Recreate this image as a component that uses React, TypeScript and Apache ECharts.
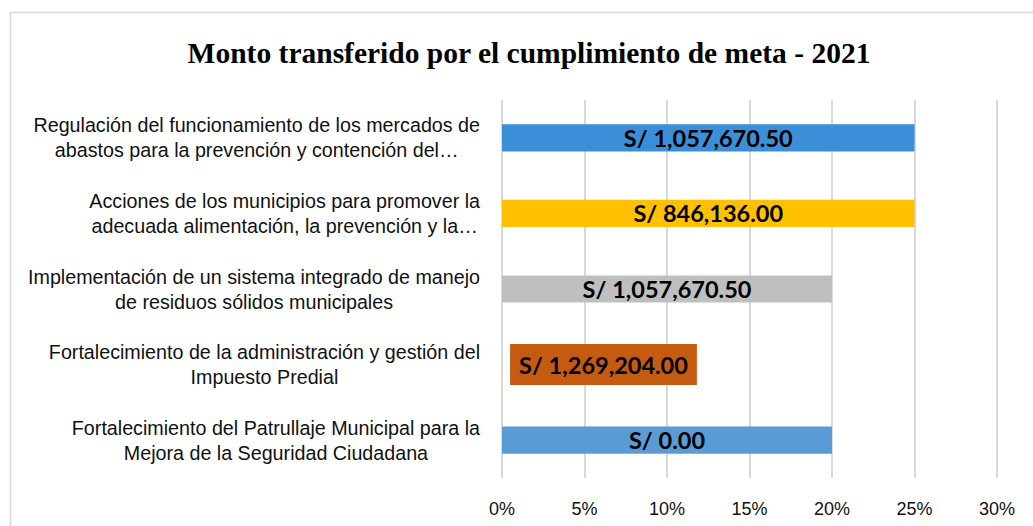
import React, { useEffect, useRef } from "react";
import * as echarts from "echarts";

const categories = [
  "Regulación del funcionamiento de los mercados de\nabastos para la prevención y contención del…",
  "Acciones de los municipios para promover la\nadecuada alimentación, la prevención y la…",
  "Implementación de un sistema integrado de manejo\nde residuos sólidos municipales",
  "Fortalecimiento de la administración y gestión del\nImpuesto Predial",
  "Fortalecimiento del Patrullaje Municipal para la\nMejora de la Seguridad Ciudadana",
];
const percentValues = [0.25, 0.25, 0.2, 0.123, 0.2];
const amountLabels = [
  "S/ 1,057,670.50",
  "S/ 846,136.00",
  "S/ 1,057,670.50",
  "S/ 1,269,204.00",
  "S/ 0.00",
];
const barColors = ["#3A8FD8", "#FFC000", "#BFBFBF", "#C55A11", "#5B9BD5"];
const hiddenBar = [false, false, false, true, false];
const tickValues = [0, 0.05, 0.1, 0.15, 0.2, 0.25, 0.3];

export default function App() {
  const ref = useRef<HTMLDivElement>(null);
  useEffect(() => {
    const chart = echarts.init(ref.current!, null, { renderer: "svg" });
    chart.setOption({
      animation: false,
      backgroundColor: "#ffffff",
      title: {
        text: "Monto transferido por el cumplimiento de meta - 2021",
        left: 524,
        top: 33,
        textAlign: "center",
        textStyle: {
          fontFamily: "Liberation Serif",
          fontWeight: "bold",
          fontSize: 29.5,
          color: "#000",
        },
      },
      graphic: [
        {
          type: "rect",
          shape: { x: 10.5, y: 12.5, width: 1100, height: 600 },
          style: { fill: "none", stroke: "#D9D9D9", lineWidth: 1.5 },
          silent: true,
        },
      ],
      grid: { left: 502, right: 36, top: 100, bottom: 48 },
      xAxis: {
        type: "value",
        min: tickValues[0],
        max: tickValues[tickValues.length - 1],
        interval: 0.05,
        axisLine: { show: false },
        axisTick: { show: false },
        splitLine: { lineStyle: { color: "#D9D9D9", width: 2 } },
        axisLabel: {
          formatter: (v: number) => Math.round(v * 100) + "%",
          fontFamily: "Liberation Sans",
          fontSize: 18,
          color: "#111",
          margin: 22,
        },
      },
      yAxis: {
        type: "category",
        data: categories,
        inverse: true,
        axisLine: { show: false },
        axisTick: { show: false },
        axisLabel: {
          align: "right",
          margin: 22,
          formatter: (v: string) =>
            v
              .split("\n")
              .map((line) => "{c|" + line + "}")
              .join("\n"),
          rich: {
            c: {
              align: "center",
              fontFamily: "Liberation Sans",
              fontSize: 19.7,
              lineHeight: 25,
              color: "#111",
            },
          },
        },
      },
      series: [
        {
          type: "bar",
          barWidth: "36%",
          data: percentValues.map((v, i) => ({
            value: v,
            itemStyle: { color: hiddenBar[i] ? "rgba(0,0,0,0)" : barColors[i] },
            label: hiddenBar[i]
              ? {
                  backgroundColor: barColors[i],
                  padding: [9, 9, 8, 9],
                }
              : {},
          })),
          label: {
            show: true,
            position: "inside",
            formatter: (p: any) => amountLabels[p.dataIndex],
            fontFamily: "Lato",
            fontWeight: "bold",
            fontSize: 23.5,
            color: "#000",
          },
        },
      ],
    });
    return () => chart.dispose();
  }, []);
  return (
    <div
      ref={ref}
      style={{ position: "absolute", left: 0, top: 0, width: 1033, height: 526 }}
    />
  );
}
